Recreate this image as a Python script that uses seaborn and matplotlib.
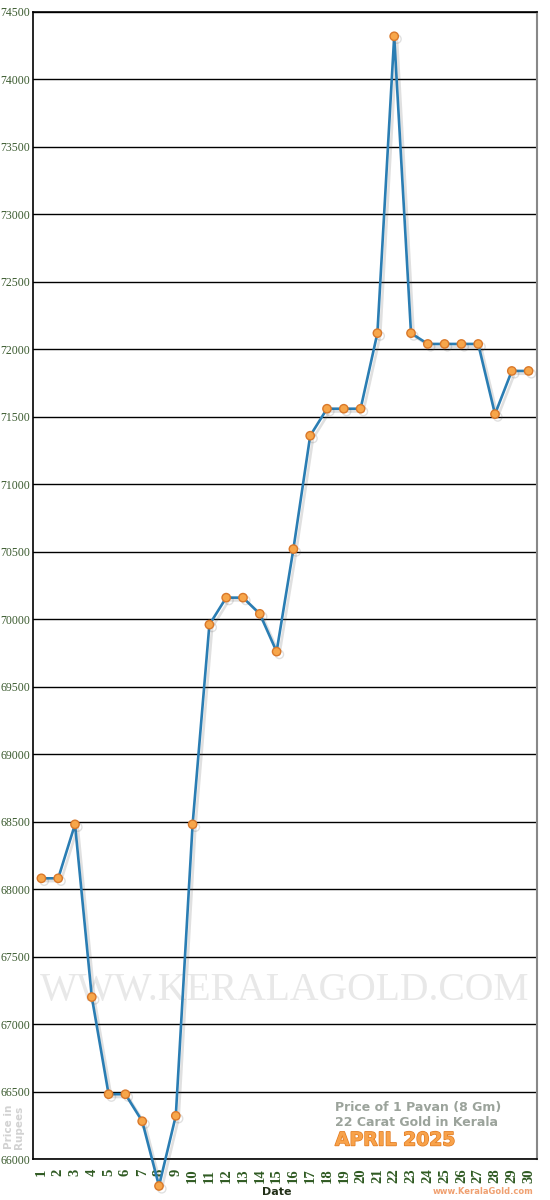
import pandas as pd
import seaborn as sns
import matplotlib.pyplot as plt
import matplotlib.patheffects as pe
import numpy as np

# April 2025 - price of 1 pavan (8 gm) 22 carat gold in Kerala
dates = list(range(1, 31))
prices = [68080, 68080, 68480, 67200, 66480, 66480, 66280, 65800, 66320, 68480,
          69960, 70160, 70160, 70040, 69760, 70520, 71360, 71560, 71560, 71560,
          72120, 74320, 72120, 72040, 72040, 72040, 72040, 71520, 71840, 71840]
y_ticks = list(range(66000, 74501, 500))

df = pd.DataFrame({'Date': dates, 'Price': prices})

sns.set_style('white')
plt.rcParams['font.family'] = ['DejaVu Sans']

fig = plt.figure(figsize=(5.5, 12), dpi=100)
ax = fig.add_axes([33 / 550, 1 - 1159 / 1200, 504 / 550, 1147 / 1200])

# watermark
ax.text(0.5, 0.147, 'WWW.KERALAGOLD.COM', transform=ax.transAxes, ha='center', va='center',
        fontsize=28.5, family='Liberation Serif', color='#e8e8e8', zorder=0)

# grid lines
for v in y_ticks:
    ax.axhline(v, color='black', lw=1.0, zorder=1)

shadow = [pe.SimpleLineShadow(offset=(2, -2), alpha=0.18, shadow_color='#555555'), pe.Normal()]
sns.lineplot(data=df, x='Date', y='Price', ax=ax, color='#2a7db3', lw=1.9, marker='o',
             markersize=6, markerfacecolor='#f7a64a', markeredgecolor='#d9782a',
             markeredgewidth=1, path_effects=shadow, clip_on=False, zorder=3)

ax.set_xlim(0.5, 30.5)
ax.set_ylim(66000, 74500)
ax.set_yticks(y_ticks)
ax.set_yticklabels([str(v) for v in y_ticks], family='Liberation Serif', fontsize=8.5, color='#3a5a2e')
ax.set_xticks(dates)
ax.set_xticklabels([str(d) for d in dates], rotation=90, family='Liberation Serif',
                   fontsize=10.5, fontweight='bold', color='#2f5a22')
ax.set_xticks(np.arange(0.5, 31, 1), minor=True)
ax.tick_params(axis='x', which='major', length=0, pad=7)
ax.tick_params(axis='x', which='minor', length=5, width=1.2, color='black', direction='out')
ax.tick_params(axis='y', length=0, pad=2)
ax.set_xlabel('')
ax.set_ylabel('')

for s in ['left', 'bottom', 'top']:
    ax.spines[s].set_color('black')
    ax.spines[s].set_linewidth(1.2)
ax.spines['right'].set_color('#888888')
ax.spines['right'].set_linewidth(1.5)

fig.text(277 / 550, 1 - 1192 / 1200, 'Date', ha='center', va='center', fontsize=8,
         fontweight='bold', color='#223018')
fig.text(533 / 550, 1 - 1191 / 1200, 'www.KeralaGold.com', ha='right', va='center',
         fontsize=6, fontweight='bold', color='#f0a070')
fig.text(14 / 550, 1 - 1127 / 1200, 'Price in\nRupees', ha='center', va='center', rotation=90,
         fontsize=7.5, fontweight='bold', color='#d2d2d2', linespacing=1.0)

fig.text(335 / 550, 1 - 1108 / 1200, 'Price of 1 Pavan (8 Gm)', ha='left', va='center',
         fontsize=9, fontweight='bold', color='#9ba39b')
fig.text(335 / 550, 1 - 1122 / 1200, '22 Carat Gold in Kerala', ha='left', va='center',
         fontsize=9, fontweight='bold', color='#9ba39b')
fig.text(335 / 550, 1 - 1140 / 1200, 'APRIL 2025', ha='left', va='center',
         fontsize=13.5, fontweight='bold', color='#f8a24a',
         path_effects=[pe.withStroke(linewidth=1, foreground='#e07a20')])

fig.savefig('out.png', dpi=100)
